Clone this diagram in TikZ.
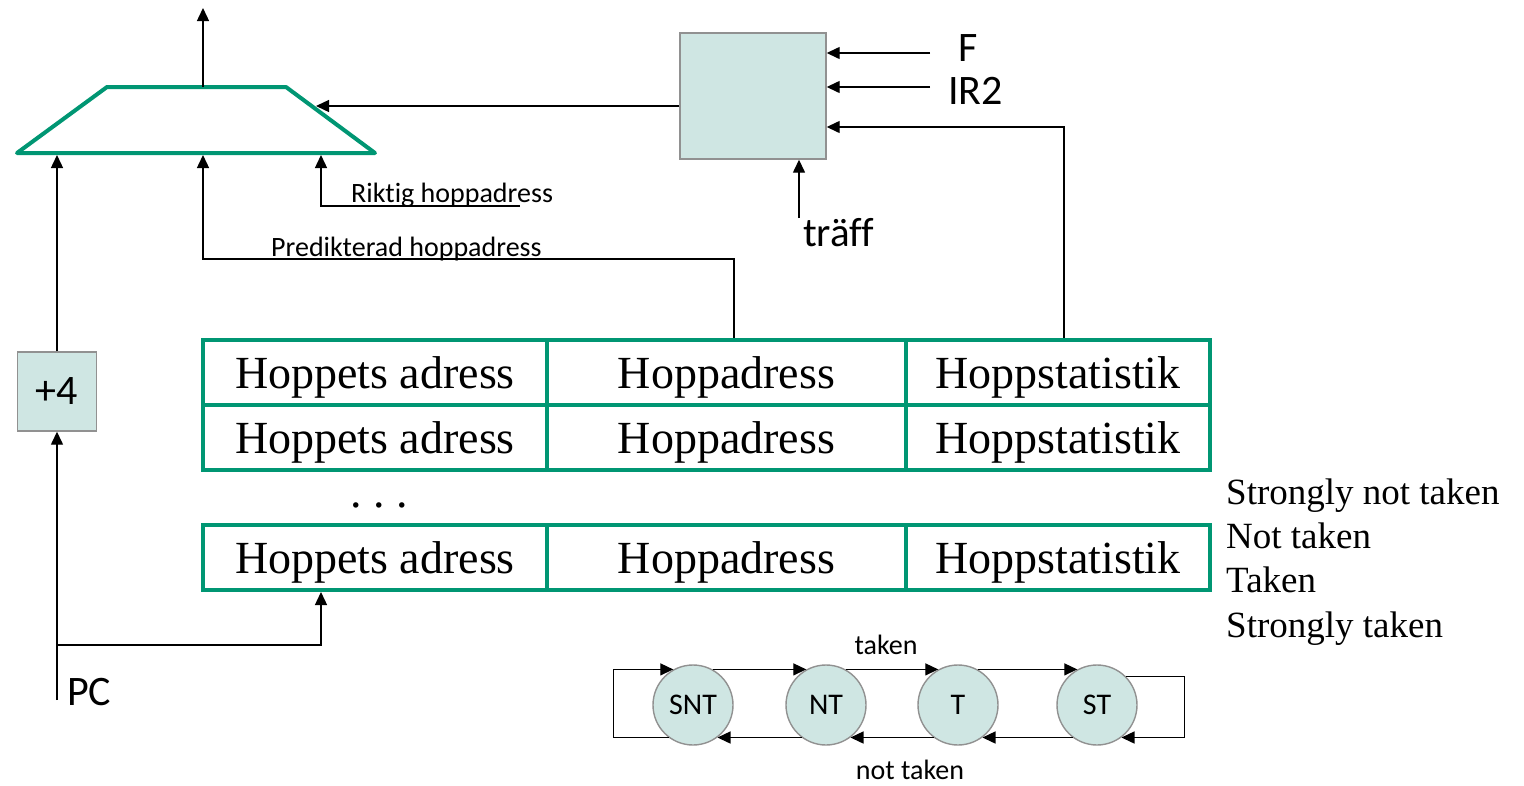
\documentclass[tikz,border=0pt]{standalone}
\usepackage{fontspec}
\setmainfont{Carlito}[Ligatures=NoCommon]
\newfontfamily\serifface{Liberation Serif}
\usetikzlibrary{arrows.meta}
\definecolor{tablegreen}{RGB}{0,150,115}
\definecolor{boxfill}{RGB}{207,230,227}
\definecolor{boxline}{RGB}{145,145,145}

\begin{document}
\begin{tikzpicture}[x=1pt,y=-1pt,
  wire/.style={line width=1.4pt, -{Triangle[length=13pt,width=12pt]}},
  cell/.style={draw=tablegreen, line width=4pt, minimum height=65pt, inner sep=0pt,
    text height=31pt, text depth=0pt, font=\serifface\fontsize{46}{50}\selectfont},
  unit/.style={draw=boxline, fill=boxfill, line width=1.4pt, inner sep=0pt},
  state/.style={circle, draw=boxline, fill=boxfill, line width=1.4pt, minimum size=80pt,
    inner sep=0pt, font=\fontsize{30}{34}\selectfont},
  small/.style={font=\fontsize{28}{32}\selectfont, inner sep=0pt},
  big/.style={font=\fontsize{42}{46}\selectfont, inner sep=0pt},
  legend/.style={font=\serifface\fontsize{37}{40}\selectfont, inner sep=0pt, anchor=base west},
]
\useasboundingbox (0,0) rectangle (1524,785);

% multiplexer
\coordinate (mtl) at (107,87);
\coordinate (mtr) at (286,87);
\coordinate (mbr) at (375,153);
\coordinate (mbl) at (17,153);
\draw[draw=tablegreen, line width=4pt, line join=round] (mbl) -- (mtl) -- (mtr) -- (mbr) -- cycle;
\coordinate (muxout) at (203,87);
\coordinate (muxin1) at (57,155);
\coordinate (muxin2) at (203,155);
\coordinate (muxin3) at (321,155);
\coordinate (muxsel) at (316,106);
\coordinate (nextpc) at (203,8);
\draw[wire] (muxout) -- (nextpc);

% prediction control unit
\node[unit, minimum width=146pt, minimum height=126pt] (ctrl) at (753,96) {};
\draw[wire] (ctrl.west |- muxsel) -- (muxsel);
\coordinate (fin) at (930,53);
\coordinate (irin) at (930,87);
\coordinate (statin) at (1064,127);
\coordinate (hitin) at (799,218);
\draw[wire] (fin) -- (ctrl.east |- fin);
\draw[wire] (irin) -- (ctrl.east |- irin);
\draw[wire] (hitin) -- (hitin |- ctrl.south);
\node[big, anchor=base west] (flab) at (958,61) {F};
\node[big, anchor=base west] (irlab) at (948,104) {IR2};
\node[big, anchor=base west, font=\fontsize{41}{45}\selectfont] (hitlab) at (803,246) {träff};

% branch target buffer
\node[cell, minimum width=344pt] (r1c1) at (375,372.5) {Hoppets adress};
\node[cell, minimum width=359pt] (r1c2) at (726.5,372.5) {Hoppadress};
\node[cell, minimum width=304pt] (r1c3) at (1058,372.5) {Hoppstatistik};
\node[cell, minimum width=344pt] (r2c1) at (375,437.5) {Hoppets adress};
\node[cell, minimum width=359pt] (r2c2) at (726.5,437.5) {Hoppadress};
\node[cell, minimum width=304pt] (r2c3) at (1058,437.5) {Hoppstatistik};
\node[cell, minimum width=344pt] (r3c1) at (375,557.5) {Hoppets adress};
\node[cell, minimum width=359pt] (r3c2) at (726.5,557.5) {Hoppadress};
\node[cell, minimum width=304pt] (r3c3) at (1058,557.5) {Hoppstatistik};
\node[font=\serifface\fontsize{46}{50}\selectfont, anchor=base, inner sep=0pt] (dots) at (379,507) {.\ .\ .};

% table outputs
\coordinate (predy) at (734,259);
\draw[wire] (r1c2.north -| predy) |- (muxin2 |- predy) -- (muxin2);
\node[small, anchor=base west] (predlab) at (271,256) {Predikterad hoppadress};
\draw[wire] (r1c3.north -| statin) |- (ctrl.east |- statin);
\coordinate (rikt) at (520,206);
\draw[wire] (rikt) -| (muxin3);
\node[small, anchor=base west] (riktlab) at (351,202) {Riktig hoppadress};

% PC and incrementer
\node[unit, big, minimum width=79pt, minimum height=79pt] (inc) at (57,391.5) {+4};
\draw[wire] (inc.north) -- (muxin1);
\coordinate (pc) at (57,700);
\coordinate (pcsplit) at (57,645);
\draw[wire] (pc) -- (inc.south);
\draw[wire] (pcsplit) -| (r3c1.south -| muxin3);
\node[big, anchor=base west] (pclab) at (67,705) {PC};

% state names
\node[legend] (l1) at (1226,504) {Strongly not taken};
\node[legend] (l2) at (1226,548) {Not taken};
\node[legend] (l3) at (1226,592) {Taken};
\node[legend] (l4) at (1226,637) {Strongly taken};

% two-bit predictor state machine
\node[state] (snt) at (693,705) {SNT};
\node[state] (nt) at (826,705) {NT};
\node[state] (t) at (958,705) {T};
\node[state] (st) at (1097,705) {ST};
\draw[wire] (snt.61) -- (nt.119);
\draw[wire] (nt.61) -- (t.119);
\draw[wire] (t.61) -- (st.119);
\draw[wire] (st.233) -- (t.-53);
\draw[wire] (t.233) -- (nt.-53);
\draw[wire] (nt.233) -- (snt.-53);
\draw[wire] (snt.233) -- ++(-55,0) |- (snt.119);
\draw[wire] (st.44) -- ++(58,0) |- (st.-53);
\node[small] (takenlab) at (886,645) {taken};
\node[small] (nottakenlab) at (910,770) {not taken};
\end{tikzpicture}
\end{document}
